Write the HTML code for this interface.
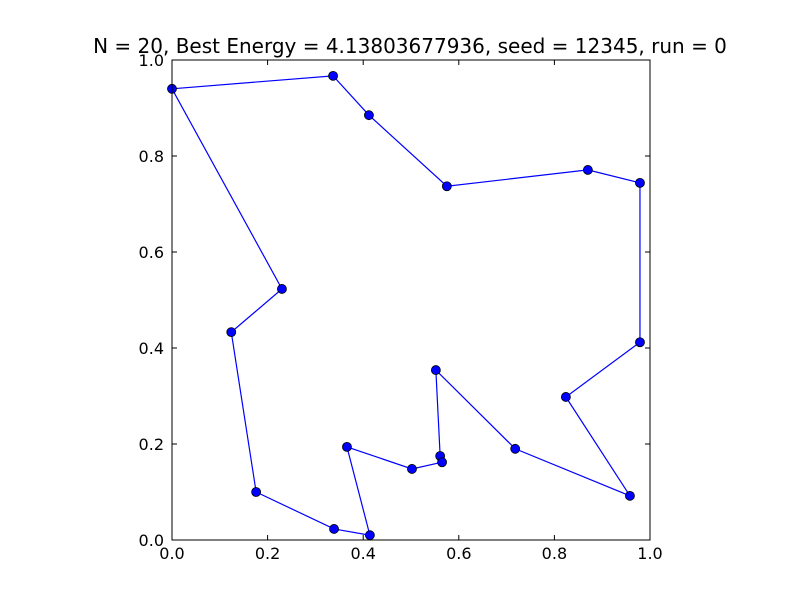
<!DOCTYPE html>
<html><head><meta charset="utf-8"><style>
html,body{margin:0;padding:0;background:#fff;}
svg{display:block;font-family:"DejaVu Sans","Liberation Sans",sans-serif;}
</style></head><body>
<svg id="chart" width="800" height="600">
<rect width="800" height="600" fill="#fff"/>
<text x="410" y="53" font-size="20" text-anchor="middle">N = 20, Best Energy = 4.13803677936, seed = 12345, run = 0</text>
<g id="ticks"></g>
<g id="marks"></g>
<rect x="172" y="60" width="478" height="480" fill="none" stroke="#000" stroke-width="1"/>
</svg>
<script>
const xs = [0.0,0.337,0.412,0.575,0.870,0.979,0.979,0.824,0.958,0.718,0.552,0.561,0.565,0.502,0.366,0.414,0.339,0.176,0.124,0.230];
const ys = [0.940,0.967,0.885,0.737,0.771,0.744,0.412,0.298,0.092,0.190,0.354,0.175,0.162,0.148,0.194,0.010,0.023,0.100,0.433,0.523];
const xTicks = [0.0,0.2,0.4,0.6,0.8,1.0];
const yTicks = [0.0,0.2,0.4,0.6,0.8,1.0];
const X = v => 172 + v*478;
const Y = v => 540 - v*480;
const NS = "http://www.w3.org/2000/svg";
const tg = document.getElementById('ticks');
const mg = document.getElementById('marks');
function mk(tag, attrs, parent){const e=document.createElementNS(NS,tag);for(const k in attrs)e.setAttribute(k,attrs[k]);parent.appendChild(e);return e;}
xTicks.forEach(t=>{
  const l1=mk('line',{x1:X(t),x2:X(t),y1:540,y2:535,stroke:'#000'},tg);
  
  
  const l2=mk('line',{x1:X(t),x2:X(t),y1:60,y2:65,stroke:'#000'},tg);
  
  
  const tx=mk('text',{x:X(t),y:559,'font-size':16,'text-anchor':'middle'},tg);
  tx.textContent=t.toFixed(1);
  
  
});
yTicks.forEach(t=>{
  const l1=mk('line',{x1:172,x2:177,y1:Y(t),y2:Y(t),stroke:'#000'},tg);
  
  
  const l2=mk('line',{x1:645,x2:650,y1:Y(t),y2:Y(t),stroke:'#000'},tg);
  
  
  const tx=mk('text',{x:164,y:Y(t)+6,'font-size':16,'text-anchor':'end'},tg);
  tx.textContent=t.toFixed(1);
  
  
});
const pts = xs.map((x,i)=>X(x)+','+Y(ys[i])).join(' ');
const poly = mk('polygon',{points:pts,fill:'none',stroke:'#0000ff','stroke-width':1.2},mg);


xs.forEach((x,i)=>{
  const c=mk('circle',{cx:X(x),cy:Y(ys[i]),r:4.5,fill:'#0000ff',stroke:'#000','stroke-width':0.8},mg);
  
  
});
</script>
</body></html>
